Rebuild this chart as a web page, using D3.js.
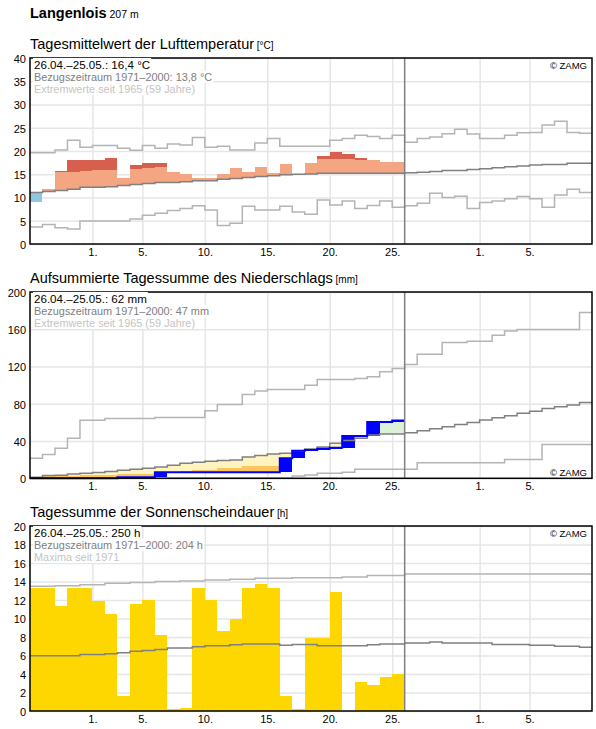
<!DOCTYPE html>
<html>
<head>
<meta charset="utf-8">
<script src="https://cdn.jsdelivr.net/npm/d3@7"></script>
<style>
body { margin: 0; background: #fff; }
svg text { font-family: "Liberation Sans", Arial, sans-serif; }
</style>
</head>
<body>
<svg id="chart" width="596" height="729"></svg>
<script>

// ---- data (days from 26.04.2024, 45 days shown, 30 observed) ----
var station = "Langenlois",
    altitude = "207 m";
var startDate = Date.UTC(2024, 3, 26);
var nDays = 45, nObs = 30;
var tickDays = [[4, 1], [4, 5], [4, 10], [4, 15], [4, 20], [4, 25], [5, 1], [5, 5]];

// temperature °C
var tempActual = [9.1, 11.8, 15.6, 18.1, 18.1, 18.1, 18.5, 14.3, 17.0, 17.4,
    17.4, 15.4, 15.05, 14.3, 14.3, 15.05, 16.3, 15.5, 16.55, 15.3,
    17.2, 15.0, 17.4, 19.0, 19.8, 19.35, 18.5, 18.0, 17.6, 17.6];
var tempUpper = [null, null, 15.4, 15.5, 15.6, 15.9, 15.9, null, 16.2, 16.3,
    16.6, null, null, null, null, null, null, null, null, null,
    null, null, null, 18.35, 18.35, 18.35, 18.05, null, null, null];
var tempMean = [11.1, 11.3, 11.5, 11.75, 12.2, 12.2, 12.3, 12.6, 12.8, 13.0,
    13.2, 13.2, 13.4, 13.6, 13.6, 13.9, 14.1, 14.3, 14.5, 14.7,
    14.9, 15.0, 15.05, 15.2, 15.2, 15.2, 15.2, 15.2, 15.2, 15.2,
    15.3, 15.45, 15.6, 15.8, 15.8, 16.0, 16.2, 16.4, 16.6, 16.8,
    17.0, 17.1, 17.1, 17.35, 17.35];
var tempMax = [19.6, 19.6, 20.2, 22.3, 20.8, 21.2, 21.2, 20.6, 20.15, 21.2,
    20.6, 21.5, 21.3, 22.9, 20.8, 21.0, 20.2, 20.2, 21.7, 22.7,
    21.0, 21.0, 21.0, 21.0, 22.3, 22.7, 23.4, 23.1, 22.7, 23.4,
    21.9, 22.7, 23.0, 23.7, 24.7, 23.65, 22.7, 22.7, 23.4, 23.9,
    24.0, 25.6, 26.4, 24.0, 23.8];
var tempMin = [3.65, 4.2, 3.5, 3.2, 4.95, 4.95, 4.95, 4.95, 5.4, 6.2,
    6.6, 7.2, 7.65, 8.25, 7.3, 4.0, 4.45, 8.1, 7.3, 7.3,
    8.1, 6.9, 6.4, 9.45, 8.4, 9.25, 7.65, 8.3, 9.25, 7.9,
    8.25, 8.75, 10.9, 10.0, 10.25, 7.65, 8.95, 9.25, 9.75, 10.2,
    9.75, 7.9, 10.55, 11.75, 11.1];

// precipitation, accumulated mm
var precActual = [0, 0, 0, 0, 0, 0, 0, 1.1, 1.1, 1.1,
    6.5, 6.5, 6.5, 6.5, 6.5, 6.5, 6.5, 6.5, 6.5, 6.5,
    21.5, 29.5, 30.3, 31.8, 32.8, 45.5, 45.5, 60.5, 60.5, 62];
var precLow = [0, 2.0, 2.0, 2.0, 3.5, 3.5, 3.5, 4.3, 4.3, 4.3,
    5.5, 7.0, 7.5, 8.9, 8.9, 10.7, 10.7, 13.5, 13.5, 13.5,
    null, null, null, null, null, null, null, null, null, null];
var precMean = [1.1, 3.0, 3.2, 4.5, 5.5, 6.2, 7.3, 8.7, 9.8, 10.7,
    12.2, 14.0, 16.1, 17.1, 18.3, 19.0, 19.6, 22.8, 24.6, 26.0,
    27.0, 29.3, 31.5, 33.5, 37.5, 40.5, 43.0, 46.4, 47.5, 47.5,
    48.9, 51.0, 53.2, 55.3, 57.8, 60.0, 62.5, 65.0, 67.1, 69.7,
    72.1, 75.0, 76.8, 78.6, 81.5];
var precMax = [21.4, 25.5, 32.2, 42.9, 62.2, 62.2, 64.3, 64.3, 64.3, 64.3,
    65.4, 65.4, 65.4, 65.4, 72.5, 79.3, 79.3, 90.0, 93.6, 95.4,
    95.4, 95.4, 100.0, 106.1, 106.1, 106.1, 107.2, 108.9, 114.3, 117.9,
    122.2, 133.2, 133.2, 145.8, 145.8, 147.2, 147.2, 153.6, 158.2, 159.7,
    159.7, 159.7, 159.7, 159.7, 177.9];
var precMin = [0, 0, 0, 0, 0, 0, 0, 0, 0, 0,
    0, 0, 0, 0, 0, 0, 0, 0, 0, 0,
    0, 2.5, 3.5, 5.5, 5.5, 6.5, 9.6, 9.6, 9.6, 9.6,
    9.6, 16.7, 16.7, 16.7, 16.7, 16.7, 16.7, 16.7, 20.3, 20.3,
    20.3, 36.4, 36.4, 36.4, 36.4];

// sunshine hours
var sunActual = [13.35, 13.35, 11.3, 13.3, 13.35, 11.9, 10.5, 1.6, 11.6, 12.0,
    8.2, 0.2, 0.3, 13.35, 12.0, 8.6, 10.0, 13.35, 13.7, 13.35,
    1.6, 0.2, 7.9, 7.9, 12.85, 0, 3.1, 2.8, 3.7, 4.0];
var sunMean = [5.97, 5.97, 5.97, 5.97, 6.1, 6.1, 6.2, 6.3, 6.45, 6.55,
    6.65, 6.8, 6.8, 6.95, 7.05, 7.05, 7.15, 7.25, 7.25, 7.25,
    7.1, 7.2, 7.2, 7.05, 7.05, 7.05, 7.05, 7.15, 7.25, 7.25,
    7.35, 7.35, 7.45, 7.35, 7.35, 7.35, 7.35, 7.2, 7.2, 7.2,
    7.1, 7.1, 7.0, 7.0, 6.9];
var sunMax = [13.5, 13.5, 13.55, 13.55, 13.65, 13.65, 13.8, 13.8, 13.9, 13.9,
    14.0, 14.0, 14.05, 14.05, 14.15, 14.15, 14.25, 14.25, 14.35, 14.35,
    14.35, 14.4, 14.4, 14.4, 14.4, 14.5, 14.5, 14.65, 14.65, 14.65,
    14.8, 14.8, 14.8, 14.8, 14.8, 14.8, 14.8, 14.8, 14.8, 14.8,
    14.8, 14.8, 14.8, 14.8, 14.8];

var tempInfo = ["26.04.\u201325.05.: 16,4 \u00b0C", "Bezugszeitraum 1971\u20132000: 13,8 \u00b0C", "Extremwerte seit 1965 (59 Jahre)"];
var precInfo = ["26.04.\u201325.05.: 62 mm", "Bezugszeitraum 1971\u20132000: 47 mm", "Extremwerte seit 1965 (59 Jahre)"];
var sunInfo = ["26.04.\u201325.05.: 250 h", "Bezugszeitraum 1971\u20132000: 204 h", "Maxima seit 1971"];

// ---- colours ----
var gridColor = "#e6e6e6",
    meanColor = "#808080",
    extremeColor = "#b4b4b4",
    infoColors = ["#000", "#808080", "#c4c4c4"],
    infoSizes = ["11.6px", "10.9px", "10.9px"];

var svg = d3.select("#chart");
var left = 30, right = 592;

function day(i){ return new Date(startDate + i * 864e5); }

var tickDates = tickDays.map(function(d){ return new Date(Date.UTC(2024, d[0], d[1])); });

var x = d3.scaleUtc()
    .domain([day(0), day(nDays)])
    .range([left, right]);

// header
var head = svg.append("text")
    .attr("x", left).attr("y", 18)
    .style("font-size", "14.5px").style("font-weight", "bold")
    .text(station);
head.append("tspan").style("font-weight", "normal").style("font-size", "10.5px").text(" " + altitude);

function stepPath(values, y){
    var pts = values.map(function(v, i){ return [i, v]; });
    pts.push([values.length, values[values.length - 1]]);
    return d3.line()
        .x(function(d){ return x(day(d[0])); })
        .y(function(d){ return y(d[1]); })
        .curve(d3.curveStepAfter)(pts);
}

function setupPanel(p){
    var y = d3.scaleLinear().domain([0, p.max]).range([p.bottom, p.top]);
    var t = svg.append("text")
        .attr("x", left).attr("y", p.top - 9)
        .style("font-size", "14.5px")
        .text(p.title);
    t.append("tspan").style("font-size", "10px").text(" [" + p.unit + "]");

    var g = svg.append("g");
    var ay = g.append("g")
        .attr("transform", "translate(" + left + ",0)")
        .call(d3.axisLeft(y).tickValues(d3.range(0, p.max + 1, p.step)).tickSize(-(right - left)).tickPadding(4));
    g.append("g")
        .attr("transform", "translate(0," + p.bottom + ")")
        .call(d3.axisBottom(x).tickValues(tickDates).tickFormat(d3.utcFormat("%-d.")).tickSize(-(p.bottom - p.top)).tickPadding(4));
    g.selectAll(".domain").remove();
    g.selectAll(".tick line").attr("stroke", gridColor).attr("stroke-width", 1.5);
    g.selectAll(".tick text")
        .attr("font-size", 11)
        .attr("font-family", '"Liberation Sans", Arial, sans-serif')
        .attr("fill", "#000");
    ay.selectAll(".tick text").attr("dy", "0.4em");

    p.y = y;
    p.g = svg.append("g");
    return p;
}

function lineOn(p, values, color, width){
    p.g.append("path")
        .attr("d", stepPath(values, p.y))
        .attr("fill", "none")
        .attr("stroke", color)
        .attr("stroke-width", width);
}

function barRect(p, i, v0, v1, color){
    p.g.append("rect")
        .attr("x", x(day(i)))
        .attr("width", x(day(i + 1)) - x(day(i)))
        .attr("y", p.y(Math.max(v0, v1)))
        .attr("height", Math.abs(p.y(v0) - p.y(v1)))
        .attr("fill", color)
        .attr("shape-rendering", "crispEdges");
}

function finishPanel(p){
    // today marker
    svg.append("line")
        .attr("x1", x(day(nObs))).attr("x2", x(day(nObs)))
        .attr("y1", p.top).attr("y2", p.bottom)
        .attr("stroke", meanColor).attr("stroke-width", 1.5);
    // frame
    svg.append("rect")
        .attr("x", left).attr("y", p.top)
        .attr("width", right - left).attr("height", p.bottom - p.top)
        .attr("fill", "none").attr("stroke", "#000").attr("stroke-width", 1.5);
    // info lines with white boxes
    p.info.forEach(function(s, i){
        var txt = svg.append("text")
            .attr("x", left + 4).attr("y", p.top + 11 + i * 12)
            .style("font-size", infoSizes[i])
            .attr("fill", infoColors[i])
            .text(s);
        var bb = txt.node().getBBox();
        svg.insert("rect", function(){ return txt.node(); })
            .attr("x", bb.x - 1).attr("y", bb.y)
            .attr("width", bb.width + 2).attr("height", bb.height)
            .attr("fill", "#fff");
    });
    svg.append("text")
        .attr("x", right - 5).attr("y", p.zamgY)
        .attr("text-anchor", "end")
        .style("font-size", "9.5px")
        .text("\u00a9 ZAMG");
}

// ---- panel 1: temperature ----
var p1 = setupPanel({title: "Tagesmittelwert der Lufttemperatur", unit: "\u00b0C",
    top: 58, bottom: 244, max: 40, step: 5, info: tempInfo, zamgY: 68.5});

tempActual.forEach(function(v, i){
    var m = tempMean[i], u = tempUpper[i];
    if(v < m){
        barRect(p1, i, v, m, "#92c5de");
    }
    else if(v > m){
        var cap = (u != null && u < v) ? u : v;
        barRect(p1, i, m, cap, "#f4a582");
        if(cap < v) barRect(p1, i, cap, v, "#d6604d");
    }
});
lineOn(p1, tempMax, extremeColor, 1.5);
lineOn(p1, tempMin, extremeColor, 1.5);
lineOn(p1, tempMean, meanColor, 1.5);
finishPanel(p1);

// ---- panel 2: precipitation ----
var p2 = setupPanel({title: "Aufsummierte Tagessumme des Niederschlags", unit: "mm",
    top: 292, bottom: 478.3, max: 200, step: 40, info: precInfo, zamgY: 476});

precActual.forEach(function(v, i){
    var m = precMean[i], lo = precLow[i];
    if(v < m){
        var base = (lo != null && lo > v) ? Math.min(lo, m) : v;
        barRect(p2, i, base, m, "#fff4bf");
        if(base > v) barRect(p2, i, v, base, "#fdc55c");
    }
    else if(v > m){
        barRect(p2, i, m, v, "#ddf1d8");
    }
    var prev = i > 0 ? precActual[i - 1] : 0;
    if(v > prev) barRect(p2, i, prev, v, "#0000ff");
});
lineOn(p2, precMax, extremeColor, 1.5);
lineOn(p2, precMin, extremeColor, 1.5);
lineOn(p2, precMean, meanColor, 1.5);
lineOn(p2, precActual, "#0000ff", 2);
finishPanel(p2);

// ---- panel 3: sunshine ----
var p3 = setupPanel({title: "Tagessumme der Sonnenscheindauer", unit: "h",
    top: 526, bottom: 711, max: 20, step: 2, info: sunInfo, zamgY: 536.5});

sunActual.forEach(function(v, i){
    if(v > 0) barRect(p3, i, 0, v, "#ffd700");
});
lineOn(p3, sunMax, extremeColor, 1.5);
lineOn(p3, sunMean, meanColor, 1.5);
finishPanel(p3);

</script>
</body>
</html>
